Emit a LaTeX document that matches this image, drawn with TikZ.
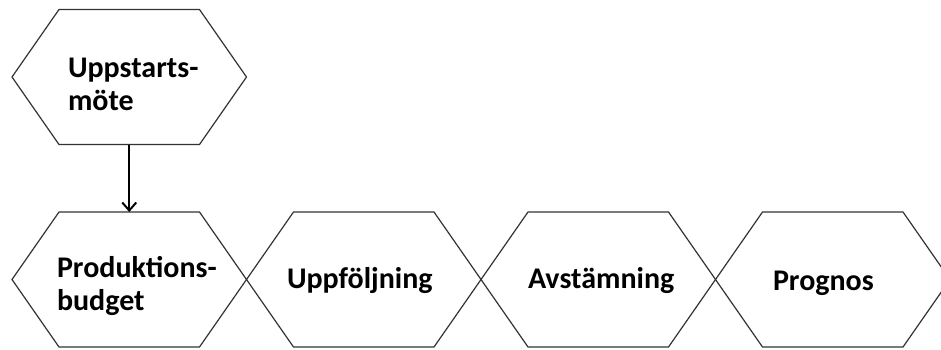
\documentclass[tikz,border=0pt]{standalone}
\usepackage{fontspec}
\setmainfont{Carlito}
\usetikzlibrary{arrows.meta,calc}
\tikzset{
  hexline/.style={draw=black!80, line width=1.2pt, line join=miter},
  lbl/.style={font=\bfseries\fontsize{30pt}{33pt}\selectfont, inner sep=0pt, outer sep=0pt, align=left, anchor=base west},
  conn/.style={draw=black, line width=2pt, -{Straight Barb[length=8pt,width=14pt]}}
}
% \myhexagon{name}{center x}{center y}
\newcommand{\myhexagon}[3]{%
  \coordinate (#1) at (#2,#3);
  \coordinate (#1-n) at ($(#1)+(0,67.5)$);
  \coordinate (#1-s) at ($(#1)+(0,-67.5)$);
  \draw[hexline] ($(#1)+(-117.25,0)$) -- ($(#1)+(-70.25,67.5)$) -- ($(#1)+(70.25,67.5)$)
     -- ($(#1)+(117.25,0)$) -- ($(#1)+(70.25,-67.5)$) -- ($(#1)+(-70.25,-67.5)$) -- cycle;
}
\begin{document}
\begin{tikzpicture}[x=1pt,y=1pt]
\useasboundingbox (0,0) rectangle (941,349);
\myhexagon{h0}{129.25}{272}
\myhexagon{h1}{129.25}{69.5}
\myhexagon{h2}{363.75}{69.5}
\myhexagon{h3}{598.25}{69.5}
\myhexagon{h4}{832.75}{69.5}
\node[lbl] (t0) at (68,239) {Uppstarts-\\möte};
\node[lbl] (t1) at (57,39) {Produktions-\\budget};
\node[lbl] (t2) at (287,61) {Uppföljning};
\node[lbl] (t3) at (528,61) {Avstämning};
\node[lbl] (t4) at (773,59) {Prognos};
\draw[conn] (h0-s) -- (h1-n);
\end{tikzpicture}
\end{document}
